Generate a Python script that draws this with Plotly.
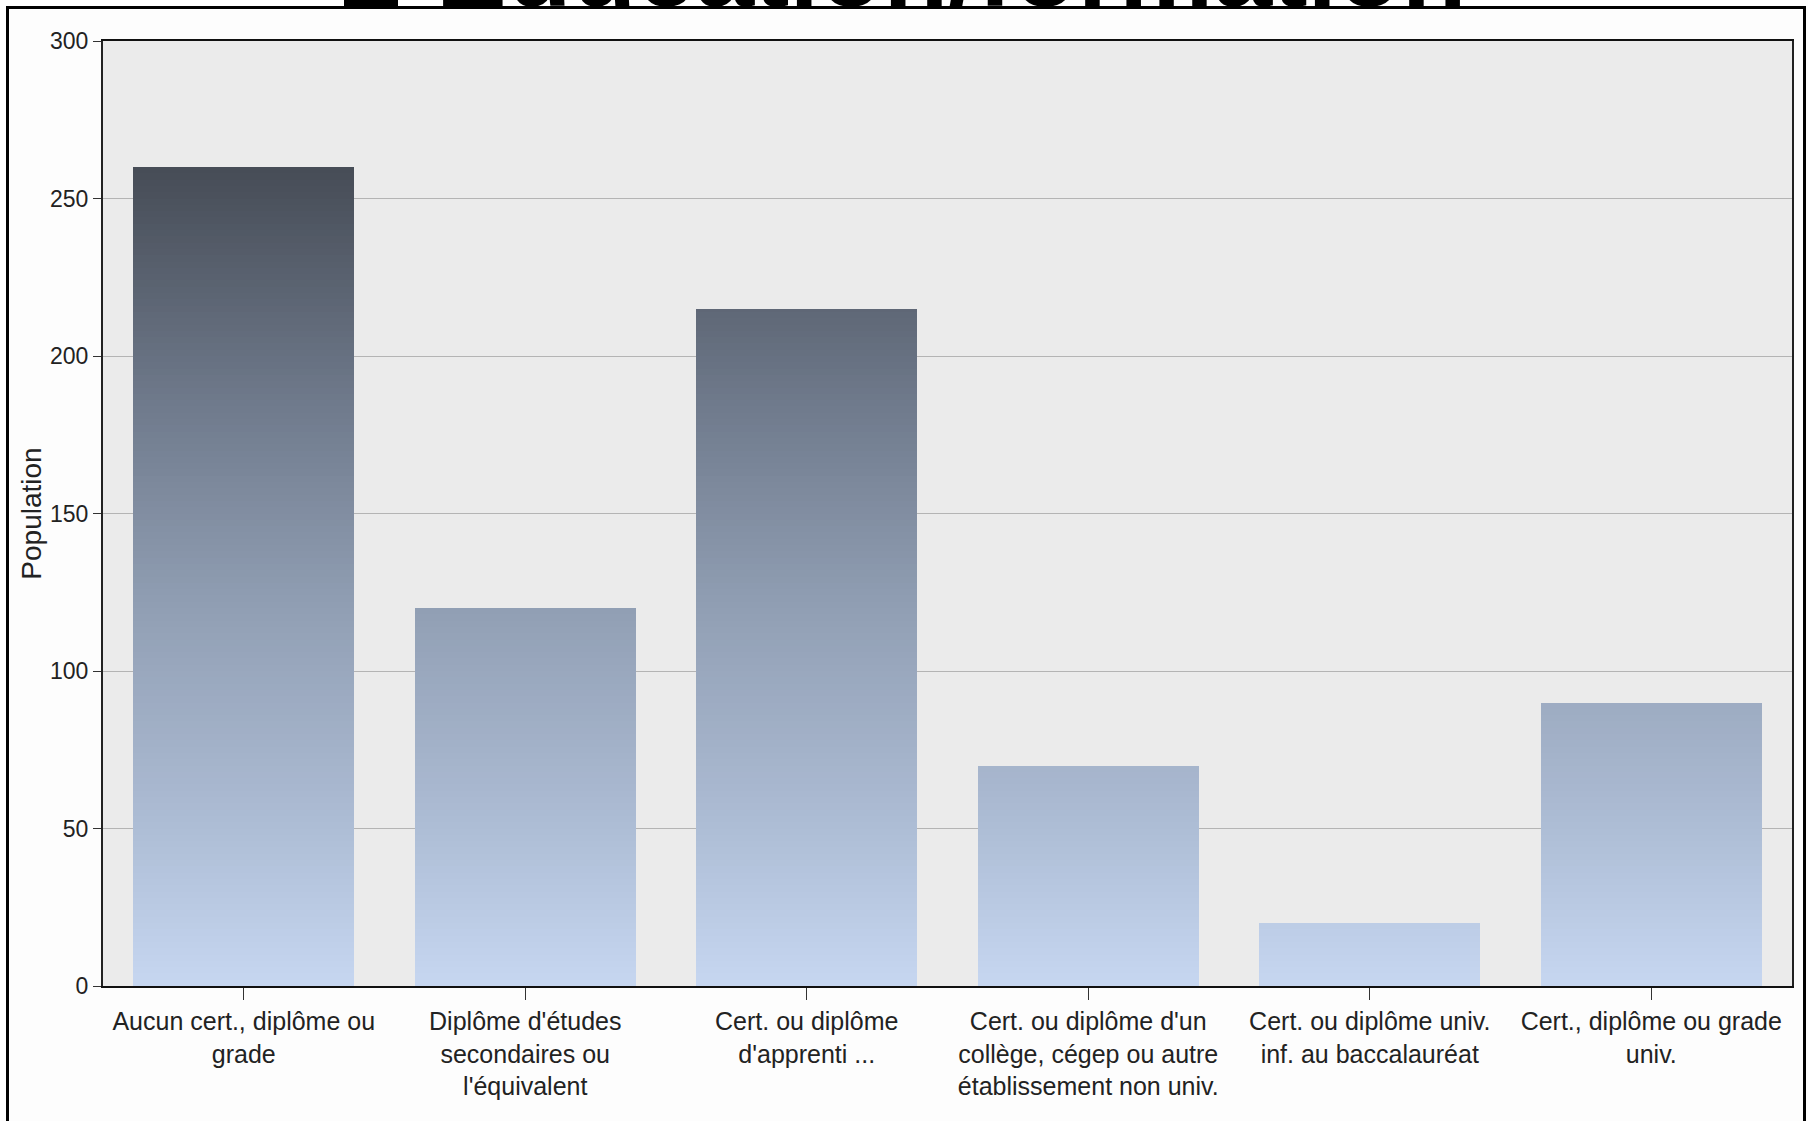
import plotly.graph_objects as go

# ---- data ----
categories = [
    "Aucun cert., diplôme ou<br>grade",
    "Diplôme d'études<br>secondaires ou<br>l'équivalent",
    "Cert. ou diplôme<br>d'apprenti ...",
    "Cert. ou diplôme d'un<br>collège, cégep ou autre<br>établissement non univ.",
    "Cert. ou diplôme univ.<br>inf. au baccalauréat",
    "Cert., diplôme ou grade<br>univ.",
]
population = [260, 120, 215, 70, 20, 90]
y_ticks = [0, 50, 100, 150, 200, 250, 300]
title_text = "Éducation/formation"
y_title = "Population"

# gradient stops (value -> rgb)
grad_vals = [0, 56, 120, 183, 260]
grad_cols = [(198, 215, 241), (171, 186, 210), (145, 159, 180), (112, 123, 141), (70, 76, 86)]

W, H = 1808, 1121
L, R, T, B = 103, 16, 41, 135


def grad_color(v):
    if v <= grad_vals[0]:
        c = grad_cols[0]
    elif v >= grad_vals[-1]:
        c = grad_cols[-1]
    else:
        for i in range(len(grad_vals) - 1):
            if grad_vals[i] <= v <= grad_vals[i + 1]:
                t = (v - grad_vals[i]) / (grad_vals[i + 1] - grad_vals[i])
                a, b = grad_cols[i], grad_cols[i + 1]
                c = tuple(a[k] + (b[k] - a[k]) * t for k in range(3))
                break
    return "rgb(%d,%d,%d)" % tuple(round(x) for x in c)


fig = go.Figure()
step = 2
top = max(population)
lo = 0
while lo < top:
    seg = []
    for v in population:
        h = min(v, lo + step) - lo
        seg.append(h if h > 0 else None)
    fig.add_trace(go.Bar(
        x=categories, y=seg,
        marker=dict(color=grad_color(lo + step / 2), line=dict(width=0)),
        hoverinfo="skip", showlegend=False,
    ))
    lo += step

# pixel -> paper helpers
pw = W - L - R
ph = H - T - B


def px2x(px):
    return (px - L) / pw


def py2y(py):
    return (H - B - py) / ph


shapes = [
    # outer frame
    dict(type="rect", xref="paper", yref="paper",
         x0=px2x(7.5), x1=px2x(1804.5), y0=py2y(1130), y1=py2y(7.5),
         line=dict(color="black", width=3), fillcolor="rgba(0,0,0,0)", layer="below"),
    # title icon (square bullet), mostly cut off like the reference
    dict(type="rect", xref="paper", yref="paper",
         x0=px2x(344), x1=px2x(398), y0=py2y(7), y1=py2y(-40),
         line=dict(width=0), fillcolor="black", layer="above"),
]

fig.update_layout(
    width=W, height=H,
    margin=dict(l=L, r=R, t=T, b=B),
    paper_bgcolor="#fdfdfd",
    plot_bgcolor="#ebebeb",
    barmode="stack",
    bargap=0.215,
    font=dict(family="Liberation Sans, Arial, sans-serif", color="#222"),
    shapes=shapes,
    annotations=[
        dict(text="<b>" + title_text + "</b>", xref="paper", yref="paper",
             x=px2x(952), y=py2y(30), xanchor="center", yanchor="bottom",
             showarrow=False, font=dict(size=106, color="black",
                                        family="Liberation Sans, Arial, sans-serif")),
    ],
    xaxis=dict(
        showline=True, linecolor="#111", linewidth=2, mirror=True,
        ticks="outside", ticklen=12, tickcolor="#333",
        tickfont=dict(size=25, color="#222"),
        showgrid=False,
    ),
    yaxis=dict(
        range=[0, 300], tickvals=y_ticks,
        showline=True, linecolor="#222", linewidth=2, mirror=True,
        ticks="outside", ticklen=8, tickcolor="#333",
        tickfont=dict(size=23, color="#222"),
        showgrid=True, gridcolor="#b4b4b4", gridwidth=1,
        zeroline=False,
        title=dict(text=y_title, font=dict(size=28, color="#222"), standoff=0),
    ),
)

fig.write_html(
    "out.html",
    config={"displayModeBar": False},
    post_script="document.body.style.margin='0px';document.body.style.overflow='hidden';",
)
